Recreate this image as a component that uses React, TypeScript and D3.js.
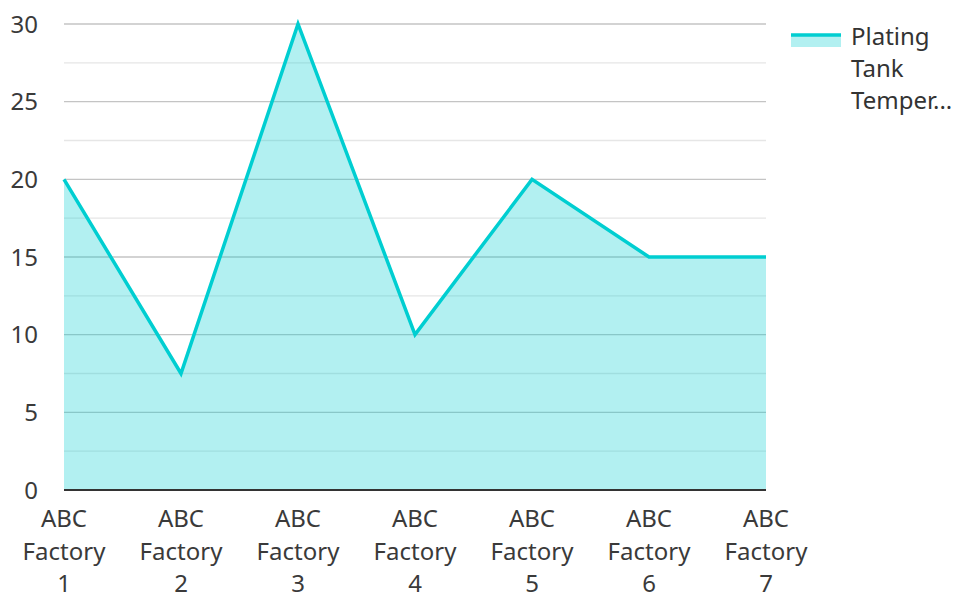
import React from "react";
import * as d3 from "d3";

const categories = ["ABC Factory 1", "ABC Factory 2", "ABC Factory 3", "ABC Factory 4", "ABC Factory 5", "ABC Factory 6", "ABC Factory 7"];
const values = [20, 7.5, 30, 10, 20, 15, 15];
const majorTicks = [0, 5, 10, 15, 20, 25, 30];
const minorTicks = [2.5, 7.5, 12.5, 17.5, 22.5, 27.5];
const seriesName = ["Plating", "Tank", "Temper..."];

const W = 956, H = 594;
const left = 64, right = 766, top = 24, bottom = 490;
const color = "#00CED1";
const font = "'Noto Sans', sans-serif";

export default function App() {
  const x = d3.scalePoint<string>().domain(categories).range([left, right]);
  const y = d3.scaleLinear().domain([0, 30]).range([bottom, top]);
  const line = d3.line<number>().x((_, i) => x(categories[i])!).y(d => y(d));
  const area = d3.area<number>().x((_, i) => x(categories[i])!).y0(y(0)).y1(d => y(d));
  return (
    <svg width={W} height={H} style={{ position: "absolute", left: 0, top: 0, fontFamily: font }}>
      {minorTicks.map(t => (
        <line key={"m" + t} x1={left} x2={right} y1={y(t)} y2={y(t)} stroke="#e6e6e6" strokeWidth={1.3} />
      ))}
      {majorTicks.map(t => (
        <line key={"M" + t} x1={left} x2={right} y1={y(t)} y2={y(t)} stroke="#c4c4c4" strokeWidth={1.3} />
      ))}
      <path d={area(values)!} fill={color} fillOpacity={0.3} />
      <path d={line(values)!} fill="none" stroke={color} strokeWidth={3.5} strokeLinejoin="miter" />
      <line x1={left} x2={right} y1={bottom} y2={bottom} stroke="#333" strokeWidth={2} />
      {majorTicks.map(t => (
        <text key={"t" + t} x={38} y={y(t) + 8.5} textAnchor="end" fontSize={24} fill="#3a3a3a">{t}</text>
      ))}
      {categories.map(c => {
        const parts = ["ABC", "Factory", c.split(" ")[2]];
        return (
          <text key={c} x={x(c)} textAnchor="middle" fontSize={24} fill="#3a3a3a">
            {parts.map((p, i) => (
              <tspan key={i} x={x(c)} y={527 + i * 32.5}>{p}</tspan>
            ))}
          </text>
        );
      })}
      <rect x={791} y={34} width={50} height={13} fill={color} fillOpacity={0.3} />
      <line x1={791} x2={841} y1={35} y2={35} stroke={color} strokeWidth={3.5} />
      <text fontSize={24} fill="#333">
        {seriesName.map((s, i) => (
          <tspan key={i} x={851} y={45 + i * 32}>{s}</tspan>
        ))}
      </text>
    </svg>
  );
}
